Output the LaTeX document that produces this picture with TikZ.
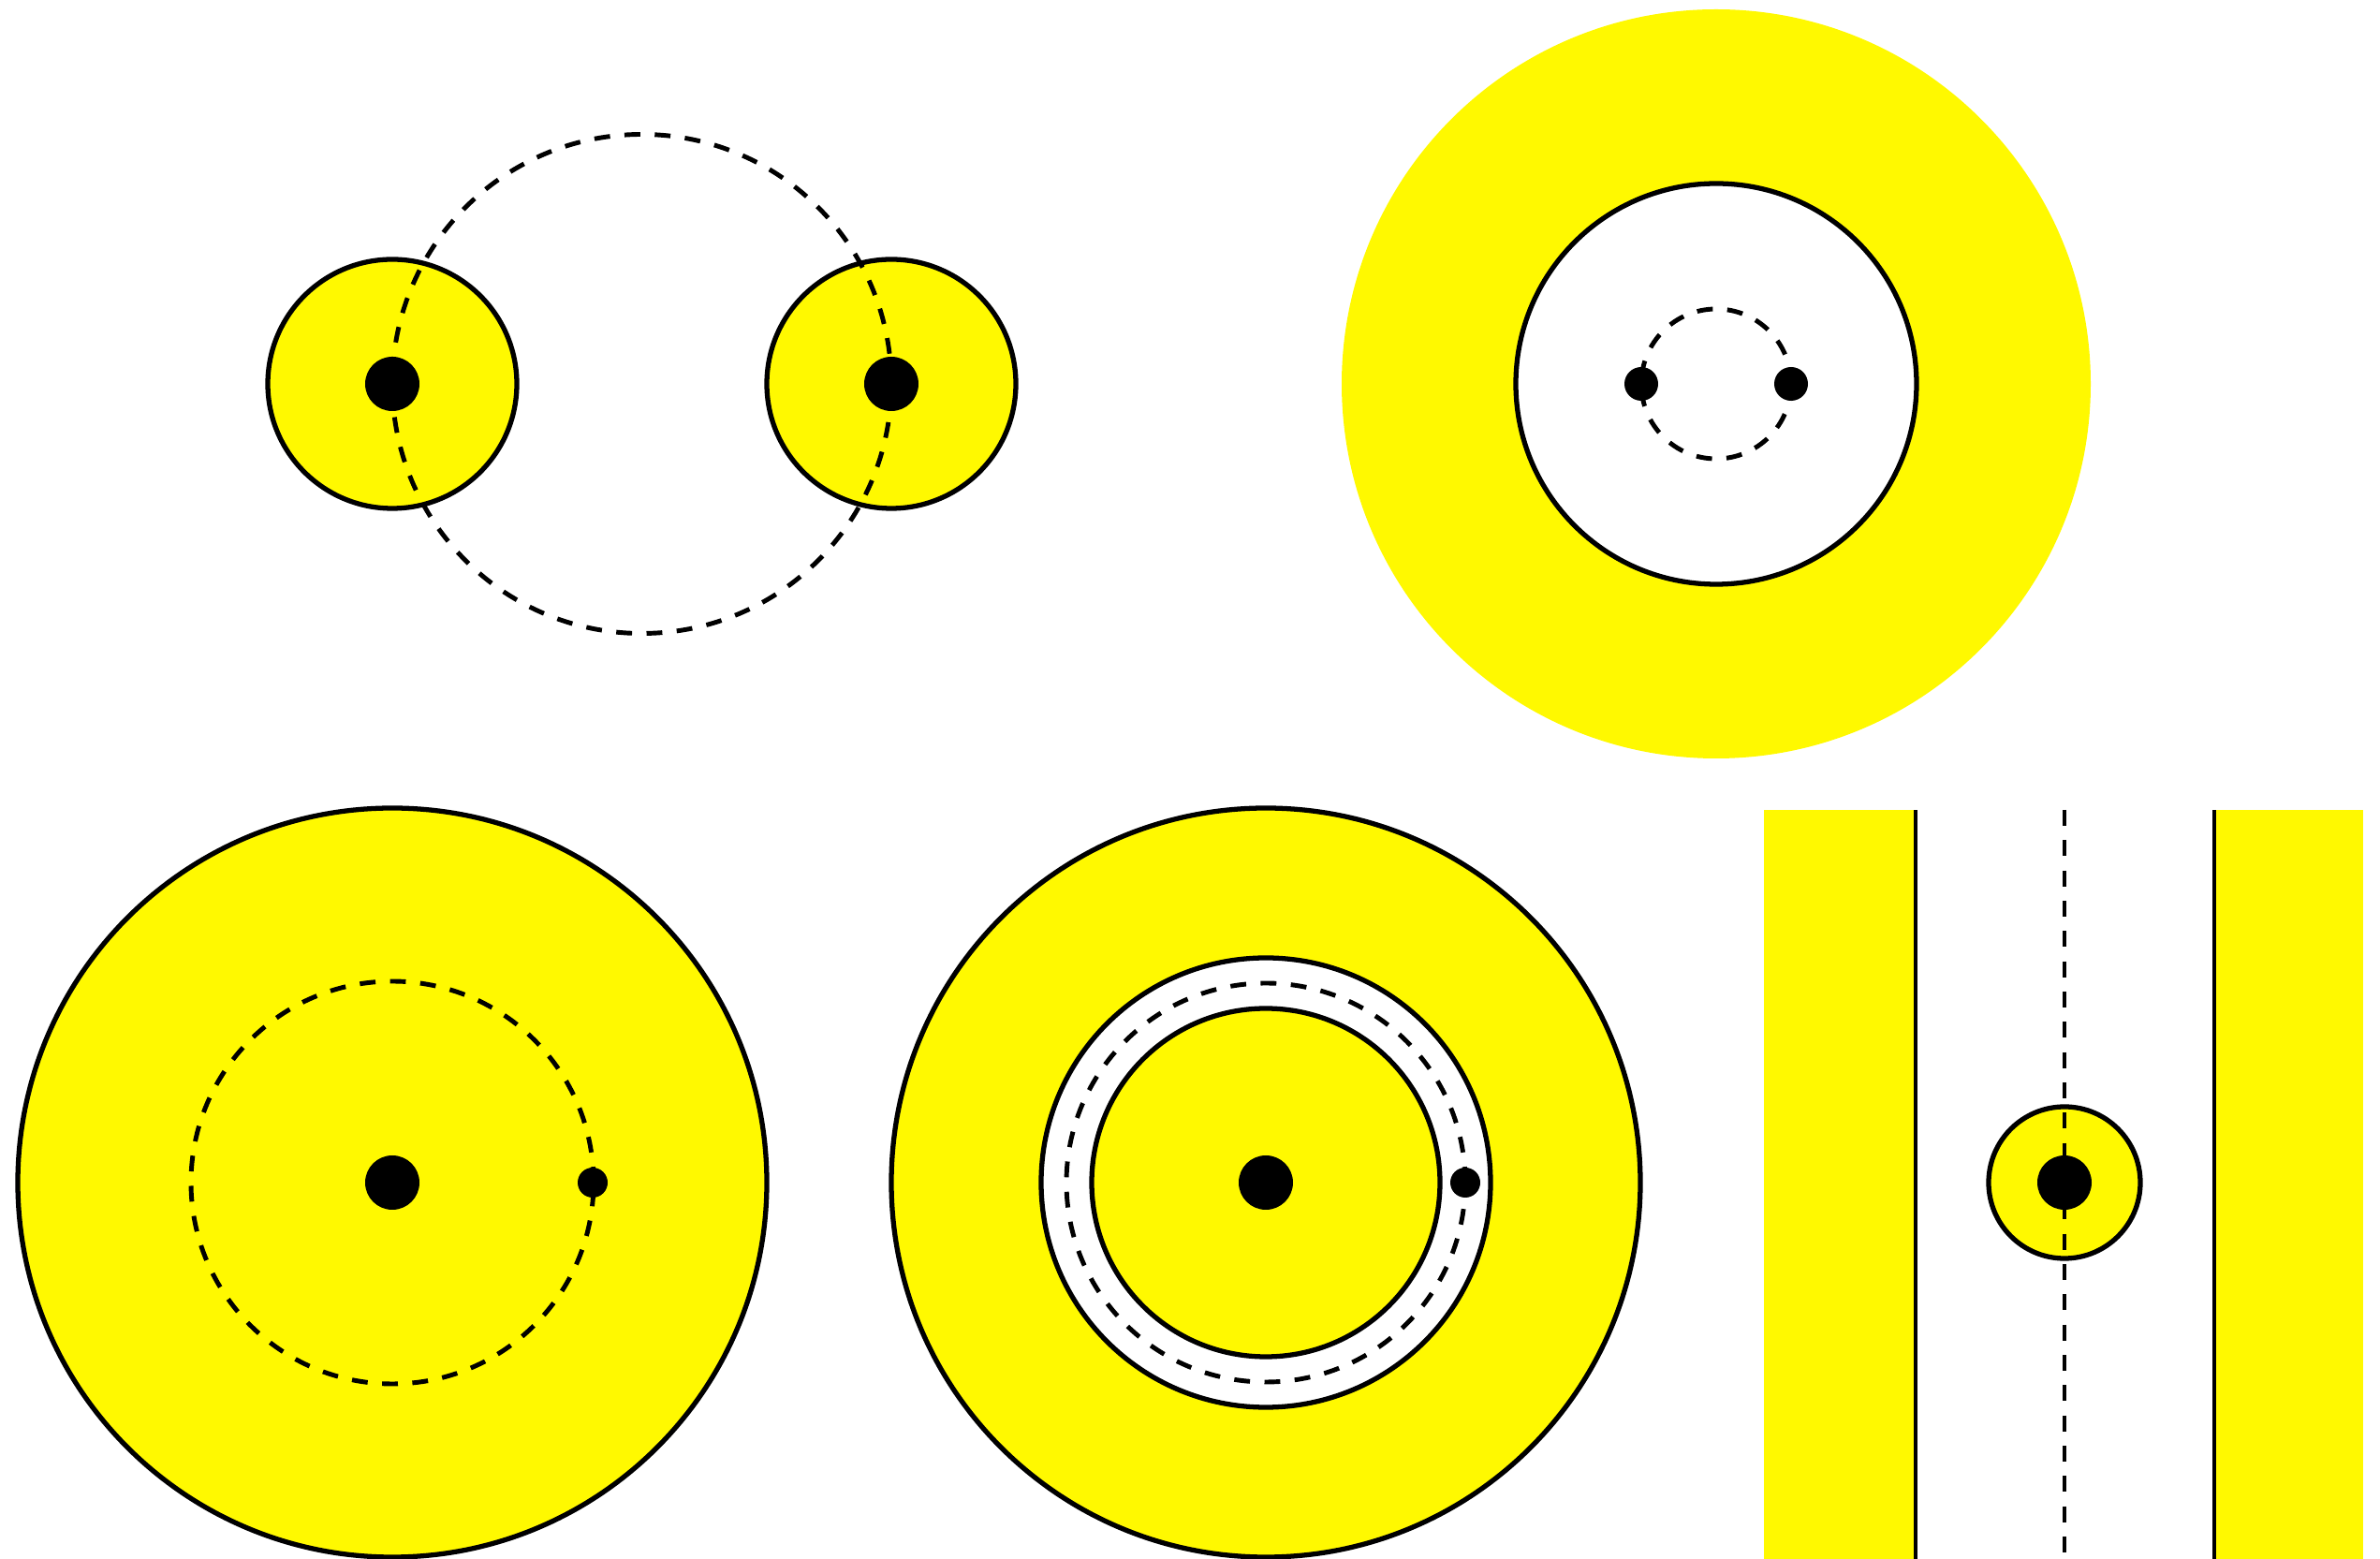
\documentclass[tikz,border=0pt]{standalone}
\usepackage{xcolor}
\usepackage{tikz}

\definecolor{ringyellow}{RGB}{255,249,0}

\begin{document}
\begin{tikzpicture}[
  disc/.style={draw, fill=#1, line width=1.5pt},
  disc/.default=ringyellow,
  orbit/.style={dashed, line width=1.4pt, dash pattern=on 4.8pt off 4.4pt},
  wall/.style={line width=1.3pt},
  charge/.style={fill=black},
]
\useasboundingbox (0,0) rectangle (25.42,16.65);
% Two separate discs
\draw[disc] (4.19,12.55) circle[radius=1.33];
\draw[disc] (9.52,12.55) circle[radius=1.33];
\draw[orbit] (6.855,12.55) circle[radius=2.665];
\fill[charge] (4.19,12.55) circle[radius=0.29];
\fill[charge] (9.52,12.55) circle[radius=0.29];
% Hole in a big disc
\fill[ringyellow] (18.33,12.55) circle[radius=4.0];
\draw[disc=white] (18.33,12.55) circle[radius=2.14];
\draw[orbit] (18.33,12.55) circle[radius=0.80];
\fill[charge] (17.53,12.55) circle[radius=0.18];
\fill[charge] (19.13,12.55) circle[radius=0.18];
% Disc with a satellite
\draw[disc] (4.19,4.02) circle[radius=4.0];
\draw[orbit] (4.19,4.02) circle[radius=2.15];
\fill[charge] (4.19,4.02) circle[radius=0.29];
\fill[charge] (6.33,4.02) circle[radius=0.16];
% Disc, channel and core
\draw[disc] (13.52,4.02) circle[radius=4.0];
\draw[disc=white] (13.52,4.02) circle[radius=2.40];
\draw[disc] (13.52,4.02) circle[radius=1.86];
\draw[orbit] (13.52,4.02) circle[radius=2.13];
\fill[charge] (13.52,4.02) circle[radius=0.29];
\fill[charge] (15.65,4.02) circle[radius=0.16];
% Straight strip
\fill[ringyellow] (18.84,0) rectangle (20.46,8.0);
\fill[ringyellow] (23.65,0) rectangle (25.24,8.0);
\draw[wall] (20.46,0) -- (20.46,8.0);
\draw[wall] (23.65,0) -- (23.65,8.0);
\draw[disc] (22.05,4.02) circle[radius=0.81];
\draw[orbit] (22.05,8.0) -- (22.05,0);
\fill[charge] (22.05,4.02) circle[radius=0.29];
\end{tikzpicture}
\end{document}
